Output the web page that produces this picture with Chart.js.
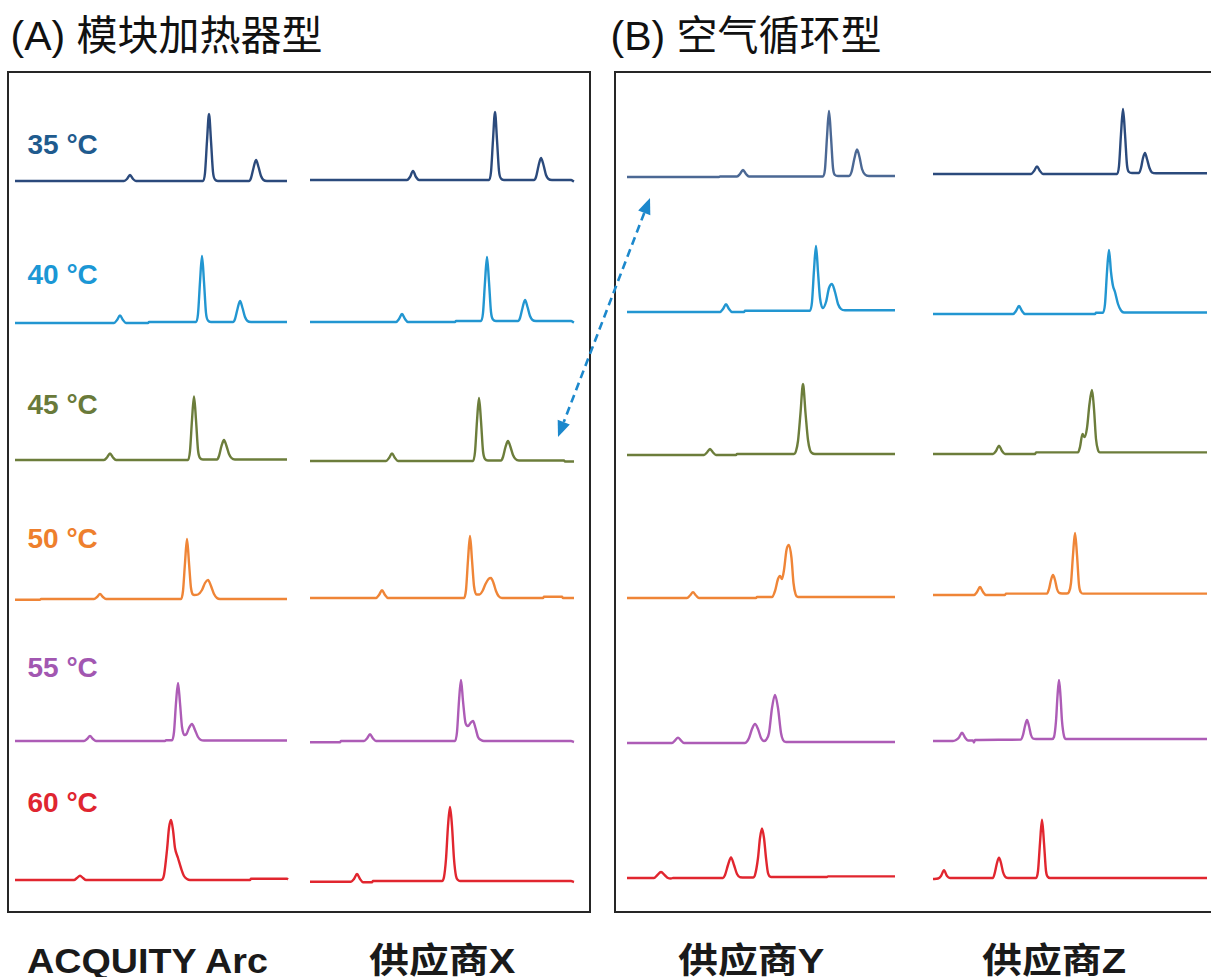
<!DOCTYPE html>
<html>
<head>
<meta charset="utf-8">
<script src="https://cdn.jsdelivr.net/npm/chart.js@4.4.0/dist/chart.umd.min.js"></script>
<style>
  html, body { margin: 0; padding: 0; background: #ffffff; }
  body { width: 1211px; height: 977px; position: relative; overflow: hidden; }
  .panel { position: absolute; box-sizing: border-box; border: 2px solid #262626; }
  .title { position: absolute; font-family: "Liberation Sans", "Noto Sans CJK SC", sans-serif; font-size: 41px; line-height: 1; color: #111; white-space: nowrap; }
  .temp { position: absolute; font-family: "Liberation Sans", Arial, sans-serif; font-weight: bold; font-size: 28px; line-height: 1; white-space: nowrap; }
  .system { position: absolute; font-family: "Liberation Sans", "Noto Sans CJK SC", sans-serif; font-weight: bold; font-size: 35px; line-height: 1; color: #1a1a1a; white-space: nowrap; transform-origin: 0 0; }
  .trace { position: absolute; }
  svg { position: absolute; left: 0; top: 0; }
</style>
</head>
<body>
<script>
// Column temperatures, systems and panel headings
const temperatures = ['35 °C', '40 °C', '45 °C', '50 °C', '55 °C', '60 °C'];
const systems = ['ACQUITY Arc', '供应商X', '供应商Y', '供应商Z'];
const panelTitles = ['(A) 模块加热器型', '(B) 空气循环型'];

// Chromatogram traces: [retention time (min), signal (mAU above baseline)]
// ACQUITY Arc (block heater)
const arc35 = [[0,0],[10.9,0],[11.2,2],[11.5,6],[11.8,2],[12.1,0],[18.8,0],[19.0,8],[19.2,40],[19.4,67],[19.6,40],[19.8,9],[20.0,1.5],[20.3,0],[23.4,0],[23.6,3],[23.85,13],[24.1,21],[24.35,14],[24.6,5],[24.85,1],[25.2,0],[27.2,0]];
const arc40 = [[0,0],[9.9,0],[10.2,3],[10.5,7.5],[10.8,3],[11.1,0],[13.3,0],[13.4,1],[18.1,1],[18.3,9],[18.5,41],[18.7,67],[18.9,41],[19.1,10],[19.3,2.5],[19.6,1],[21.8,1],[22.0,4],[22.25,14],[22.5,22],[22.75,15],[23.0,6],[23.25,2],[23.6,1],[27.2,1]];
const arc45 = [[0,0],[8.9,0],[9.2,2.5],[9.5,6.5],[9.8,2.5],[10.1,0],[17.3,0],[17.5,9],[17.7,40],[17.9,63.5],[18.1,40],[18.3,10],[18.5,2],[18.8,0.5],[20.2,0.5],[20.4,4],[20.65,14],[20.9,20],[21.15,14],[21.4,6],[21.65,2],[22.0,0.5],[27.2,0.5]];
const arc50 = [[0,-0.7],[2.5,-0.7],[2.6,0],[7.9,0],[8.2,2],[8.5,5],[8.8,2],[9.1,0],[16.6,0],[16.8,8],[17.0,36],[17.2,60],[17.4,36],[17.6,11],[17.9,4],[18.3,4.5],[18.7,9],[19.0,16],[19.3,19],[19.6,13],[19.9,5],[20.2,1],[20.5,0],[27.2,0]];
const arc55 = [[0,0],[6.9,0],[7.2,2],[7.5,5],[7.8,2],[8.1,0],[15.0,0],[15.1,0.7],[15.7,0.7],[15.9,9],[16.1,38],[16.3,58],[16.5,38],[16.7,14],[16.95,6],[17.15,7],[17.4,13],[17.7,17],[18.0,11],[18.3,4],[18.6,1],[18.9,0.5],[27.2,0.5]];
const arc60 = [[0,0],[5.9,0],[6.2,2],[6.5,4.3],[6.8,2],[7.1,0],[14.6,0],[14.9,5],[15.2,30],[15.4,52],[15.6,60],[15.8,50],[16.0,32],[16.3,22],[16.6,12],[16.9,4],[17.2,1],[17.5,0],[23.5,0],[23.6,1.3],[27.2,1.3],[27.3,0.5]];

// Vendor X (block heater)
const vx35 = [[0,0],[9.7,0],[10.0,3],[10.3,9],[10.6,3],[10.9,0],[17.9,0],[18.1,8],[18.3,40],[18.5,68],[18.7,40],[18.9,9],[19.1,1.5],[19.4,0],[22.4,0],[22.6,3],[22.85,14],[23.1,22],[23.35,15],[23.6,5],[23.85,1],[24.2,0],[26.1,0],[26.4,-1.5]];
const vx40 = [[0,0],[8.6,0],[8.9,3],[9.2,8],[9.5,3],[9.8,0],[14.5,0],[14.6,1],[17.1,1],[17.3,9],[17.5,40],[17.7,65],[17.9,40],[18.1,10],[18.3,2.5],[18.6,1],[20.8,1],[21.0,4],[21.25,14],[21.5,22],[21.75,15],[22.0,6],[22.25,2],[22.6,1],[26.1,1],[26.4,-0.5]];
const vx45 = [[0,0],[7.6,0],[7.9,3],[8.2,7.5],[8.5,3],[8.8,0],[16.3,0],[16.5,9],[16.7,40],[16.9,63],[17.1,40],[17.3,10],[17.5,2],[17.8,0.5],[19.1,0.5],[19.3,4],[19.55,14],[19.8,20],[20.05,14],[20.3,6],[20.55,2],[20.9,0.5],[25.4,0.5],[25.5,-0.5],[26.4,-0.5]];
const vx50 = [[0,0],[6.6,0],[6.9,3],[7.2,7.7],[7.5,3],[7.8,0],[15.4,0],[15.6,8],[15.8,38],[16.0,62],[16.2,38],[16.4,12],[16.65,3.5],[16.95,3.5],[17.25,7],[17.55,14],[17.85,19],[18.1,20],[18.35,15],[18.6,7],[18.85,2],[19.2,0],[23.3,0],[23.4,1.3],[25.2,1.3],[25.3,0],[26.4,0]];
const vx55 = [[0,-1.3],[3.0,-1.3],[3.1,0],[5.4,0],[5.7,2.5],[6.0,6.7],[6.3,2.5],[6.6,0],[14.5,0],[14.7,9],[14.9,40],[15.1,61],[15.3,40],[15.55,18],[15.8,15],[16.05,18],[16.3,20],[16.55,13],[16.8,4],[17.1,1],[17.4,0],[26.1,0],[26.4,-1]];
const vx60 = [[0,-0.7],[4.1,-0.7],[4.4,2],[4.7,7],[5.0,2],[5.3,-1.3],[6.2,-1.3],[6.3,0],[13.2,0],[13.4,4],[13.6,22],[13.8,55],[14.0,74],[14.2,55],[14.4,22],[14.6,5],[14.8,1],[15.0,0],[26.1,0],[26.4,-1]];

// Vendor Y (forced air)
const vy35 = [[0,0],[9.2,0],[9.3,0.5],[11.0,0.5],[11.3,3],[11.6,7],[11.9,3],[12.2,0.5],[19.6,0.5],[19.8,8],[20.0,40],[20.2,66],[20.4,40],[20.6,9],[20.8,2],[21.1,1],[22.2,1],[22.45,5],[22.75,19],[23.0,27.5],[23.25,20],[23.5,8],[23.8,2.5],[24.2,1],[26.8,1]];
const vy40 = [[0,0],[9.3,0],[9.6,3],[9.9,7.7],[10.2,3],[10.5,0],[11.7,0],[11.8,1.3],[18.3,1.3],[18.5,10],[18.7,42],[18.9,66],[19.1,40],[19.3,14],[19.6,4],[19.9,10],[20.2,24],[20.5,28],[20.8,20],[21.1,8],[21.4,3],[21.8,1.7],[26.8,1.7]];
const vy45 = [[0,0],[7.7,0],[8.0,2.5],[8.3,6],[8.6,2.5],[8.9,0],[10.9,0],[11.0,1],[16.7,1],[16.9,4],[17.1,14],[17.35,42],[17.6,71],[17.85,42],[18.1,15],[18.3,5],[18.5,2],[18.8,1],[26.8,1]];
const vy50 = [[0,0],[6.0,0],[6.3,2.5],[6.6,5.7],[6.9,2.5],[7.2,0],[12.9,0],[13.0,1],[14.5,1],[14.8,7],[15.1,19],[15.3,22],[15.5,19],[15.7,28],[15.95,48],[16.2,53],[16.45,40],[16.65,15],[16.85,4],[17.1,1],[26.8,1]];
const vy55 = [[0,0],[4.5,0],[4.8,2.5],[5.1,5.4],[5.4,2.5],[5.7,0],[11.8,0],[12.0,1.5],[12.2,5],[12.5,14],[12.8,19],[13.1,14],[13.4,5],[13.7,2],[13.9,3],[14.2,10],[14.5,35],[14.8,48],[15.1,35],[15.4,10],[15.6,3],[15.9,1],[26.8,1]];
const vy60 = [[0,0],[2.7,0],[3.0,2.5],[3.4,6],[3.8,2.5],[4.1,0],[4.4,-0.5],[4.6,0],[9.6,0],[9.8,3],[10.1,13],[10.4,20.6],[10.7,13],[11.0,4],[11.3,0.8],[12.6,0.5],[12.8,3],[13.1,20],[13.3,40],[13.5,49.5],[13.7,40],[13.9,20],[14.1,5],[14.4,1],[20.0,1],[20.1,1.6],[26.8,1.6]];

// Vendor Z (forced air)
const vz35 = [[0,0],[9.8,0],[10.1,3],[10.4,7.5],[10.7,3],[11.0,0],[18.4,0],[18.6,8],[18.8,40],[19.0,65],[19.2,40],[19.4,9],[19.6,2],[19.9,1],[20.6,1],[20.8,6],[21.0,16],[21.2,21],[21.4,15],[21.65,6],[21.9,1.5],[22.3,0.7],[27.4,0.7]];
const vz40 = [[0,0],[8.0,0],[8.3,3],[8.6,8],[8.9,3],[9.2,0],[16.2,0],[16.3,1.3],[17.0,1.3],[17.2,10],[17.4,42],[17.6,64],[17.8,42],[18.0,28],[18.2,22],[18.5,10],[18.8,3.5],[19.1,1.5],[27.4,1.5]];
const vz45 = [[0,0],[6.0,0],[6.3,3],[6.6,8.3],[6.9,3],[7.2,0],[10.2,0],[10.3,1.6],[14.5,1.6],[14.7,7],[14.95,20],[15.15,17],[15.4,26],[15.65,50],[15.9,64],[16.1,45],[16.3,15],[16.5,4],[16.7,1.6],[27.4,1.6]];
const vz50 = [[0,0],[4.1,0],[4.4,3],[4.7,8],[5.0,3],[5.3,0],[7.2,0],[7.3,1.4],[11.4,1.4],[11.6,6],[11.8,15],[12.0,20],[12.2,15],[12.4,6],[12.6,2.2],[12.9,1.5],[13.4,1.5],[13.6,3],[13.8,12],[14.0,40],[14.2,62],[14.4,40],[14.6,10],[14.8,2.5],[15.0,1.4],[27.4,1.4]];
const vz55 = [[0,0],[2.0,0],[2.3,1],[2.6,3.5],[2.9,8.4],[3.2,3.5],[3.5,0.5],[4.0,0.5],[4.1,-1.5],[4.2,1],[8.8,1.5],[9.0,6],[9.2,15],[9.4,21],[9.6,15],[9.8,6],[10.0,2.5],[10.3,2],[11.9,2],[12.1,4],[12.3,20],[12.45,45],[12.6,61],[12.75,45],[12.9,20],[13.1,5],[13.3,2],[27.4,2]];
const vz60 = [[0,-1],[0.5,-0.5],[0.8,2],[1.1,7.7],[1.4,2],[1.7,0],[6.0,0],[6.2,6],[6.4,15],[6.6,20.4],[6.8,15],[7.0,6],[7.2,1.5],[7.5,0],[10.3,0],[10.5,7],[10.7,35],[10.9,58.4],[11.1,35],[11.3,7],[11.5,1],[11.7,0],[27.4,0]];

// Grid of traces: rows = temperature, columns = system
const traceGrid = [
  [arc35, vx35, vy35, vz35],
  [arc40, vx40, vy40, vz40],
  [arc45, vx45, vy45, vz45],
  [arc50, vx50, vy50, vz50],
  [arc55, vx55, vy55, vz55],
  [arc60, vx60, vy60, vz60]
];

// Styling
const lineColors = ['#2b4a7c', '#2296d1', '#6c7d3b', '#ef8537', '#ad5cb6', '#e1262f'];
const textColors = ['#1f5b8e', '#1b97d5', '#697a3a', '#ee7f2d', '#a257b1', '#df2530'];

// Page layout (px)
const columnLeft = [15, 310, 627, 933];
const baselineY = [
  [180.5, 179.5, 177.0, 174.0],
  [322.7, 321.5, 311.7, 314.0],
  [460.3, 460.7, 455.3, 454.3],
  [598.8, 597.7, 597.7, 594.7],
  [740.7, 740.7, 742.7, 740.7],
  [880.0, 881.0, 878.3, 877.7]
];
const tempBaseline = [155, 285, 415, 549, 678, 813];
const systemLeft = [27, 369, 678, 982];
const systemStretch = [1.077, 1.14, 1.14, 1.14];

function addEl(cls, text, left, top, color) {
  const d = document.createElement('div');
  d.className = cls;
  d.textContent = text;
  d.style.left = left + 'px';
  d.style.top = top + 'px';
  if (color) d.style.color = color;
  document.body.appendChild(d);
  return d;
}

// Panel frames
[[7, 71, 584, 842], [614, 71, 620, 842]].forEach(([l, t, w, h]) => {
  const p = document.createElement('div');
  p.className = 'panel';
  Object.assign(p.style, { left: l + 'px', top: t + 'px', width: w + 'px', height: h + 'px' });
  document.body.appendChild(p);
});

// Headings and labels
addEl('title', panelTitles[0], 10.5, 15.5);
addEl('title', panelTitles[1], 610.5, 15.5);
temperatures.forEach((t, i) => addEl('temp', t, 27.5, tempBaseline[i] - 23.7, textColors[i]));
systems.forEach((s, i) => {
  const el = addEl('system', s, systemLeft[i], 973 - 29.6);
  el.style.transform = 'scaleX(' + systemStretch[i] + ')';
});

// One small chart per trace
const PAD = 10, W = 300, H = 110;
traceGrid.forEach((row, r) => {
  row.forEach((pts, c) => {
    const cv = document.createElement('canvas');
    cv.className = 'trace';
    cv.width = W; cv.height = H;
    cv.style.left = (columnLeft[c] - PAD) + 'px';
    cv.style.top = (baselineY[r][c] - 90) + 'px';
    document.body.appendChild(cv);
    new Chart(cv, {
      type: 'line',
      data: {
        datasets: [{
          data: pts.map(p => ({ x: p[0], y: p[1] })),
          borderColor: (r === 0 && c === 2) ? '#4b6894' : lineColors[r],
          borderWidth: 2.4,
          pointRadius: 0,
          fill: false,
          cubicInterpolationMode: 'monotone'
        }]
      },
      options: {
        responsive: false,
        animation: false,
        events: [],
        layout: { padding: PAD },
        scales: {
          x: { type: 'linear', min: 0, max: 28, display: false },
          y: { min: -10, max: 80, display: false }
        },
        plugins: { legend: { display: false }, tooltip: { enabled: false } }
      }
    });
  });
});

// Dashed double-headed arrow linking the 45 °C vendor X trace with vendor Y at 35 °C
const ns = 'http://www.w3.org/2000/svg';
const svg = document.createElementNS(ns, 'svg');
svg.setAttribute('width', 1211);
svg.setAttribute('height', 977);
const tip1 = [650, 198], tip2 = [558, 437];
const dx = tip2[0] - tip1[0], dy = tip2[1] - tip1[1];
const len = Math.hypot(dx, dy), ux = dx / len, uy = dy / len, nx = -uy, ny = ux;
const headL = 16, headW = 6.5;
const b1 = [tip1[0] + ux * headL, tip1[1] + uy * headL];
const b2 = [tip2[0] - ux * headL, tip2[1] - uy * headL];
const line = document.createElementNS(ns, 'line');
line.setAttribute('x1', b1[0]); line.setAttribute('y1', b1[1]);
line.setAttribute('x2', b2[0]); line.setAttribute('y2', b2[1]);
line.setAttribute('stroke', '#1c88cc');
line.setAttribute('stroke-width', 2.6);
line.setAttribute('stroke-dasharray', '8 5');
svg.appendChild(line);
[[tip1, b1], [tip2, b2]].forEach(([t, b]) => {
  const poly = document.createElementNS(ns, 'polygon');
  poly.setAttribute('points', [t, [b[0] + nx * headW, b[1] + ny * headW], [b[0] - nx * headW, b[1] - ny * headW]].map(p => p.join(',')).join(' '));
  poly.setAttribute('fill', '#1c88cc');
  svg.appendChild(poly);
});
document.body.appendChild(svg);
</script>
</body>
</html>
